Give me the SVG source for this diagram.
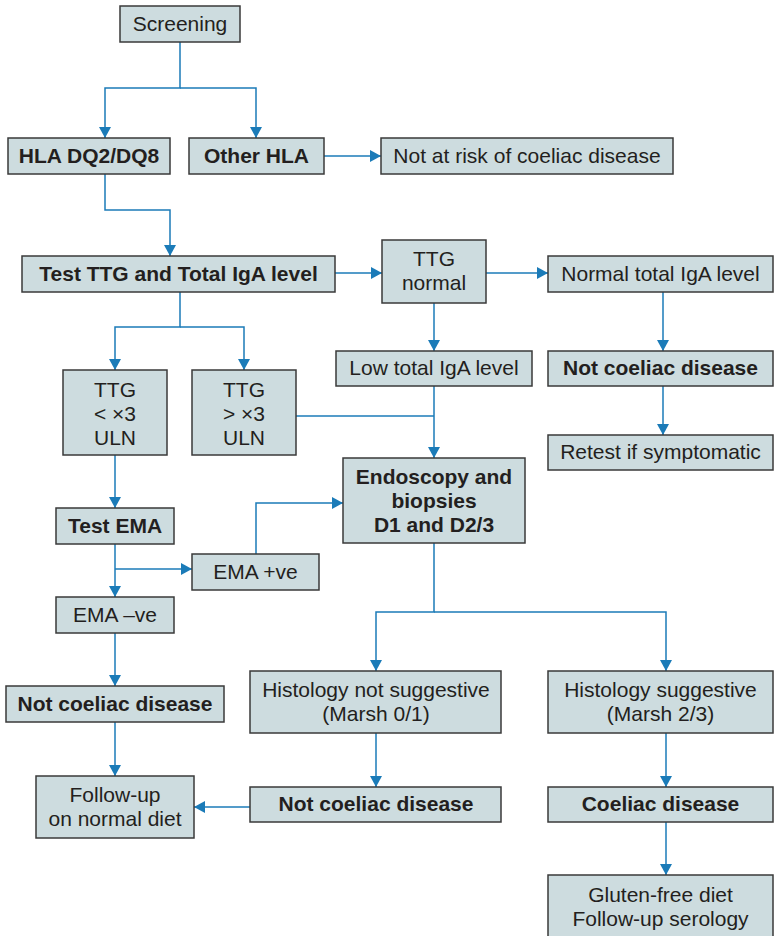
<svg xmlns="http://www.w3.org/2000/svg" width="776" height="936" viewBox="0 0 776 936">
  <style>
    .box { fill: #cddcdf; stroke: #3a3a3a; stroke-width: 1.5; }
    .t { font-family: "Liberation Sans", Arial, Helvetica, sans-serif; font-size: 21px; fill: #231f20; text-anchor: middle; }
    .b { font-weight: bold; }
    .link { fill: none; stroke: #1b7bb8; stroke-width: 1.5; }
    .arrow { marker-end: url(#head); }
  </style>
  <defs>
    <marker id="head" viewBox="0 0 11 12" refX="11" refY="6" markerWidth="11" markerHeight="12" markerUnits="userSpaceOnUse" orient="auto">
      <path d="M0,0 L11,6 L0,12 Z" fill="#1b7bb8"/>
    </marker>
  </defs>
  <rect width="776" height="936" fill="#ffffff"/>

  <!-- connectors -->
  <g id="connectors">
    <path class="link arrow" d="M180,42 V88 H105 V138"/>
    <path class="link arrow" d="M180,88 H256 V138"/>
    <path class="link arrow" d="M324,156 H381"/>
    <path class="link arrow" d="M105,174 V210 H170 V256"/>
    <path class="link arrow" d="M335,273 H382"/>
    <path class="link arrow" d="M486,273 H548"/>
    <path class="link arrow" d="M180,292 V327 H115 V370"/>
    <path class="link arrow" d="M180,327 H244 V370"/>
    <path class="link arrow" d="M434,303 V351"/>
    <path class="link arrow" d="M663,292 V351"/>
    <path class="link arrow" d="M663,386 V435"/>
    <path class="link arrow" d="M434,386 V458"/>
    <path class="link" d="M296,416 H434"/>
    <path class="link arrow" d="M115,455 V508"/>
    <path class="link arrow" d="M115,544 V597"/>
    <path class="link arrow" d="M115,569 H192"/>
    <path class="link arrow" d="M256,554 V503 H343"/>
    <path class="link arrow" d="M115,633 V686"/>
    <path class="link arrow" d="M115,722 V776"/>
    <path class="link arrow" d="M434,543 V612 H376 V671"/>
    <path class="link arrow" d="M434,612 H666 V671"/>
    <path class="link arrow" d="M376,733 V787"/>
    <path class="link arrow" d="M666,733 V787"/>
    <path class="link arrow" d="M250,807 H194"/>
    <path class="link arrow" d="M666,822 V875"/>
  </g>

  <!-- nodes -->
  <g id="screening">
    <rect class="box" x="120" y="6" width="120" height="36"/>
    <text class="t" x="180" y="30.5">Screening</text>
  </g>
  <g id="hla-dq2-dq8">
    <rect class="box" x="8" y="138" width="162" height="36"/>
    <text class="t b" x="89" y="162.5">HLA DQ2/DQ8</text>
  </g>
  <g id="other-hla">
    <rect class="box" x="189" y="138" width="135" height="36"/>
    <text class="t b" x="256.5" y="162.5">Other HLA</text>
  </g>
  <g id="not-at-risk">
    <rect class="box" x="381" y="138" width="292" height="36"/>
    <text class="t" x="527" y="162.5">Not at risk of coeliac disease</text>
  </g>
  <g id="test-ttg">
    <rect class="box" x="22" y="256" width="313" height="36"/>
    <text class="t b" x="178.5" y="280.5">Test TTG and Total IgA level</text>
  </g>
  <g id="ttg-normal">
    <rect class="box" x="382" y="240" width="104" height="63"/>
    <text class="t" x="434" y="265.5">TTG</text>
    <text class="t" x="434" y="289.5">normal</text>
  </g>
  <g id="normal-iga">
    <rect class="box" x="548" y="256" width="225" height="36"/>
    <text class="t" x="660.5" y="280.5">Normal total IgA level</text>
  </g>
  <g id="low-iga">
    <rect class="box" x="336" y="351" width="196" height="35"/>
    <text class="t" x="434" y="375">Low total IgA level</text>
  </g>
  <g id="not-coeliac-right">
    <rect class="box" x="548" y="351" width="225" height="35"/>
    <text class="t b" x="660.5" y="375">Not coeliac disease</text>
  </g>
  <g id="retest">
    <rect class="box" x="548" y="435" width="225" height="35"/>
    <text class="t" x="660.5" y="459">Retest if symptomatic</text>
  </g>
  <g id="ttg-low">
    <rect class="box" x="63" y="370" width="104" height="85"/>
    <text class="t" x="115" y="396.5">TTG</text>
    <text class="t" x="115" y="420.5">&lt; ×3</text>
    <text class="t" x="115" y="444.5">ULN</text>
  </g>
  <g id="ttg-high">
    <rect class="box" x="192" y="370" width="104" height="85"/>
    <text class="t" x="244" y="396.5">TTG</text>
    <text class="t" x="244" y="420.5">&gt; ×3</text>
    <text class="t" x="244" y="444.5">ULN</text>
  </g>
  <g id="endoscopy">
    <rect class="box" x="343" y="458" width="182" height="85"/>
    <text class="t b" x="434" y="484">Endoscopy and</text>
    <text class="t b" x="434" y="508">biopsies</text>
    <text class="t b" x="434" y="532">D1 and D2/3</text>
  </g>
  <g id="test-ema">
    <rect class="box" x="56" y="508" width="118" height="36"/>
    <text class="t b" x="115" y="532.5">Test EMA</text>
  </g>
  <g id="ema-positive">
    <rect class="box" x="192" y="554" width="127" height="36"/>
    <text class="t" x="255.5" y="578.5">EMA +ve</text>
  </g>
  <g id="ema-negative">
    <rect class="box" x="56" y="597" width="118" height="36"/>
    <text class="t" x="115" y="621.5">EMA –ve</text>
  </g>
  <g id="not-coeliac-left">
    <rect class="box" x="6" y="686" width="218" height="36"/>
    <text class="t b" x="115" y="710.5">Not coeliac disease</text>
  </g>
  <g id="follow-up">
    <rect class="box" x="36" y="776" width="158" height="62"/>
    <text class="t" x="115" y="802">Follow-up</text>
    <text class="t" x="115" y="826">on normal diet</text>
  </g>
  <g id="histology-not">
    <rect class="box" x="250" y="671" width="251" height="62"/>
    <text class="t" x="376" y="697">Histology not suggestive</text>
    <text class="t" x="376" y="721">(Marsh 0/1)</text>
  </g>
  <g id="histology-suggestive">
    <rect class="box" x="548" y="671" width="225" height="62"/>
    <text class="t" x="660.5" y="697">Histology suggestive</text>
    <text class="t" x="660.5" y="721">(Marsh 2/3)</text>
  </g>
  <g id="not-coeliac-middle">
    <rect class="box" x="250" y="787" width="251" height="35"/>
    <text class="t b" x="376" y="810.5">Not coeliac disease</text>
  </g>
  <g id="coeliac">
    <rect class="box" x="548" y="787" width="225" height="35"/>
    <text class="t b" x="660.5" y="810.5">Coeliac disease</text>
  </g>
  <g id="gluten-free">
    <rect class="box" x="548" y="875" width="225" height="70"/>
    <text class="t" x="660.5" y="902">Gluten-free diet</text>
    <text class="t" x="660.5" y="926">Follow-up serology</text>
  </g>
</svg>
